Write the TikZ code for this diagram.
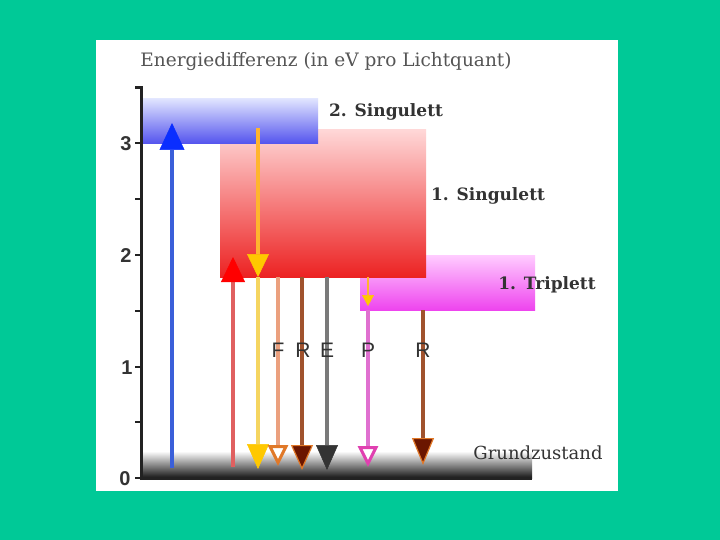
\documentclass[tikz,border=0pt]{standalone}
\usepackage{fontspec}
\setmainfont{DejaVu Serif}
\newfontfamily\sansf{Liberation Sans}
\usetikzlibrary{arrows.meta}
\definecolor{teal0}{RGB}{0,201,151}
\definecolor{axisc}{HTML}{222222}
\definecolor{labc}{HTML}{333333}
\definecolor{titc}{HTML}{555555}
\definecolor{blueline}{HTML}{3A5FD9}
\definecolor{bluehead}{HTML}{0A2EFF}
\definecolor{redline}{HTML}{E06060}
\definecolor{redhead}{HTML}{FF0000}
\definecolor{orline}{HTML}{FFB52E}
\definecolor{yelline}{HTML}{F5D560}
\definecolor{yelhead}{HTML}{FFC800}
\definecolor{salline}{HTML}{EBA07E}
\definecolor{orout}{HTML}{E07828}
\definecolor{brline}{HTML}{A0522D}
\definecolor{brhead}{HTML}{6B1600}
\definecolor{grline}{HTML}{7A7A7A}
\definecolor{grhead}{HTML}{333333}
\definecolor{pkline}{HTML}{E070D0}
\definecolor{pkout}{HTML}{E040B0}
\tikzset{
  box/.style={draw=none, inner sep=0pt, anchor=north west},
  lvl/.style={text=labc, font=\fontsize{17}{19}\selectfont\bfseries, inner sep=0pt},
  numlab/.style={text=labc, font=\sansf\fontsize{20}{22}\selectfont\bfseries, inner sep=0pt},
  letlab/.style={text=labc, font=\sansf\fontsize{21}{23}\selectfont, inner sep=0pt},
  arr/.style={line width=3.5pt},
  tickline/.style={line width=2pt, axisc},
}
\begin{document}
\begin{tikzpicture}[x=1pt,y=-1pt]
\useasboundingbox (0,0) rectangle (720,540);
\fill[teal0] (0,0) rectangle (720,540);
\fill[white] (96,40) rectangle (618,491);

% title
\node[text=titc, font=\fontsize{18.5}{20}\selectfont, inner sep=0pt] (title) at (326,62) {Energiedifferenz (in eV pro Lichtquant)};

% levels
\node[box, top color=magenta!20, bottom color={rgb,255:red,238;green,68;blue,238}, minimum width=175pt, minimum height=55pt] (t1) at (360,255) {};
\node[box, top color={rgb,255:red,255;green,216;blue,216}, bottom color={rgb,255:red,236;green,34;blue,34}, minimum width=206pt, minimum height=148pt] (s1) at (220,129) {};
\node[box, top color={rgb,255:red,226;green,230;blue,255}, bottom color={rgb,255:red,85;green,85;blue,238}, minimum width=175pt, minimum height=45pt] (s2) at (143,98) {};
\node[box, top color=white, bottom color=black!92, minimum width=389pt, minimum height=27pt] (g) at (143,451) {};

% level labels
\node[lvl] (l2) at (386,112) {2. Singulett};
\node[lvl] (l1) at (488,196) {1. Singulett};
\node[lvl] (lt) at (547,285) {1. Triplett};
\node[text=labc, font=\fontsize{18}{20}\selectfont, inner sep=0pt] (lg) at (538,453) {Grundzustand};

% axis
\coordinate (axhook) at (135,88);
\coordinate (axtop) at (141,88);
\coordinate (axbot) at (141,478);
\coordinate (axend) at (532,478);
\draw[line width=3pt, axisc] (axhook) -- (axtop) -- (axbot) -- (axend);
\foreach \yy in {143,199,255,311,367,422,478}
  \draw[tickline] (135,\yy) -- (141,\yy);
\node[numlab] (n3) at (126,144) {3};
\node[numlab] (n2) at (126,256) {2};
\node[numlab] (n1) at (127,368) {1};
\node[numlab] (n0) at (125,479) {0};

% arrow end points
\coordinate (bA) at (172,468); \coordinate (bB) at (172,123);
\coordinate (rA) at (233,467); \coordinate (rB) at (233,257);
\coordinate (yA) at (258,128); \coordinate (yB) at (258,277); \coordinate (yC) at (258,469);
\coordinate (sA) at (278,277); \coordinate (sB) at (278,466);
\coordinate (brA) at (302,277); \coordinate (brB) at (302,470);
\coordinate (gA) at (327,277); \coordinate (gB) at (327,470);
\coordinate (oA) at (368,277); \coordinate (oB) at (368,306);
\coordinate (pA) at (368,310); \coordinate (pB) at (368,467);
\coordinate (b2A) at (423,310); \coordinate (b2B) at (423,465);

% arrows
\draw[arr, blueline, -{Triangle[width=25pt,length=27pt,fill=bluehead,color=bluehead,line width=0.5pt]}] (bA) -- (bB);
\draw[arr, redline, -{Triangle[width=24pt,length=25pt,fill=redhead,color=redhead,line width=0.5pt]}] (rA) -- (rB);
\draw[arr, orline, -{Triangle[width=22pt,length=23pt,fill=yelhead,color=yelhead,line width=0.5pt]}] (yA) -- (yB);
\draw[arr, yelline, -{Triangle[width=22pt,length=25pt,fill=yelhead,color=yelhead,line width=0.5pt]}] (yB) -- (yC);
\draw[arr, salline, -{Triangle[width=20pt,length=21pt,fill=white,color=orout,line width=3pt]}] (sA) -- (sB);
\draw[arr, brline, -{Triangle[width=22pt,length=25pt,fill=brhead,color=orout,line width=1.2pt]}] (brA) -- (brB);
\draw[arr, grline, -{Triangle[width=22pt,length=25pt,fill=grhead,color=grhead,line width=0.5pt]}] (gA) -- (gB);
\draw[line width=2.5pt, orline, -{Triangle[width=12pt,length=11pt,fill=yelhead,color=yelhead,line width=0.5pt]}] (oA) -- (oB);
\draw[arr, pkline, -{Triangle[width=20pt,length=21pt,fill=white,color=pkout,line width=3pt]}] (pA) -- (pB);
\draw[arr, brline, -{Triangle[width=22pt,length=27pt,fill=brhead,color=orout,line width=1.2pt]}] (b2A) -- (b2B);

% arrow letters
\node[letlab] (fF) at (278,350) {F};
\node[letlab] (fR) at (303,350) {R};
\node[letlab] (fE) at (327,350) {E};
\node[letlab] (fP) at (368,350) {P};
\node[letlab] (fR2) at (423,350) {R};
\end{tikzpicture}
\end{document}
